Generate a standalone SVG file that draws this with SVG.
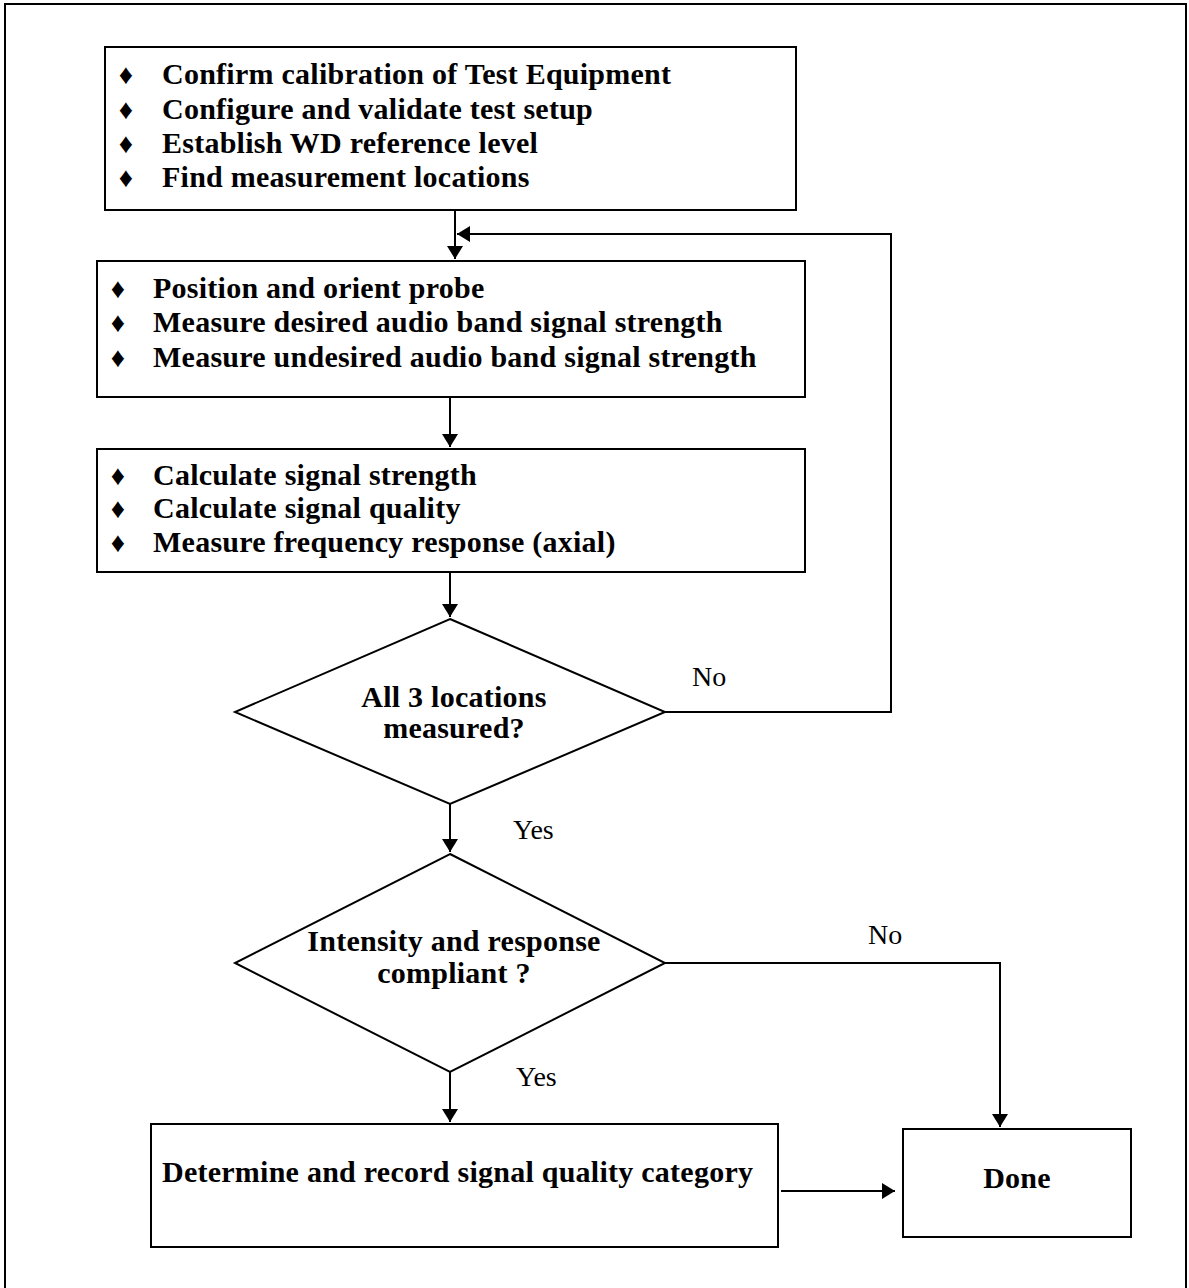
<svg xmlns="http://www.w3.org/2000/svg" width="1189" height="1288" viewBox="0 0 1189 1288">
<style>
.box{fill:#fff;stroke:#000;stroke-width:2}
.t{font-family:"Liberation Serif","Times New Roman",serif;font-size:30px;font-weight:bold;fill:#000;letter-spacing:0.25px}
.b{font-family:"Liberation Serif","DejaVu Serif",serif;font-size:28px;fill:#000;text-anchor:middle}
.lbl{font-family:"Liberation Serif","Times New Roman",serif;font-size:28px;fill:#000}
.c{fill:none;stroke:#000;stroke-width:2}
</style>
<defs>
<marker id="ah" markerUnits="userSpaceOnUse" markerWidth="14" markerHeight="16" refX="13" refY="8" orient="auto">
<path d="M0,0 L13,8 L0,16 Z" fill="#000"/>
</marker>
</defs>
<rect x="5" y="4" width="1181" height="1300" fill="#fff" stroke="#000" stroke-width="2"/>
<g id="n1">
<rect class="box" x="105" y="47" width="691" height="163"/>
<text class="b" x="126" y="84">♦</text><text class="t" x="162" y="84">Confirm calibration of Test Equipment</text>
<text class="b" x="126" y="119">♦</text><text class="t" x="162" y="119">Configure and validate test setup</text>
<text class="b" x="126" y="153">♦</text><text class="t" x="162" y="153">Establish WD reference level</text>
<text class="b" x="126" y="187">♦</text><text class="t" x="162" y="187">Find measurement locations</text>
</g>
<g id="n2">
<rect class="box" x="97" y="261" width="708" height="136"/>
<text class="b" x="118" y="298">♦</text><text class="t" x="153" y="298">Position and orient probe</text>
<text class="b" x="118" y="332">♦</text><text class="t" x="153" y="332">Measure desired audio band signal strength</text>
<text class="b" x="118" y="367">♦</text><text class="t" x="153" y="367">Measure undesired audio band signal strength</text>
</g>
<g id="n3">
<rect class="box" x="97" y="449" width="708" height="123"/>
<text class="b" x="118" y="485">♦</text><text class="t" x="153" y="485">Calculate signal strength</text>
<text class="b" x="118" y="518">♦</text><text class="t" x="153" y="518">Calculate signal quality</text>
<text class="b" x="118" y="552">♦</text><text class="t" x="153" y="552">Measure frequency response (axial)</text>
</g>
<g id="d1">
<polygon class="box" points="450,619 665,712 450,804 235,712"/>
<text class="t" x="454" y="707" text-anchor="middle">All 3 locations</text>
<text class="t" x="454" y="738" text-anchor="middle">measured?</text>
</g>
<g id="d2">
<polygon class="box" points="450,854 665,963 450,1072 235,963"/>
<text class="t" x="454" y="951" text-anchor="middle">Intensity and response</text>
<text class="t" x="454" y="983" text-anchor="middle">compliant ?</text>
</g>
<g id="n4">
<rect class="box" x="151" y="1124" width="627" height="123"/>
<text class="t" x="162" y="1182">Determine and record signal quality category</text>
</g>
<g id="n5">
<rect class="box" x="903" y="1129" width="228" height="108"/>
<text class="t" x="1017" y="1188" text-anchor="middle">Done</text>
</g>
<g id="connectors">
<path class="c" d="M455,210 V259" marker-end="url(#ah)"/>
<path class="c" d="M665,712 H891 V234 H457" marker-end="url(#ah)"/>
<path class="c" d="M450,397 V447" marker-end="url(#ah)"/>
<path class="c" d="M450,572 V617" marker-end="url(#ah)"/>
<path class="c" d="M450,804 V852" marker-end="url(#ah)"/>
<path class="c" d="M450,1072 V1122" marker-end="url(#ah)"/>
<path class="c" d="M665,963 H1000 V1127" marker-end="url(#ah)"/>
<path class="c" d="M781,1191 H895" marker-end="url(#ah)"/>
<text class="lbl" x="692" y="686">No</text>
<text class="lbl" x="513" y="839">Yes</text>
<text class="lbl" x="868" y="944">No</text>
<text class="lbl" x="516" y="1086">Yes</text>
</g>
</svg>
